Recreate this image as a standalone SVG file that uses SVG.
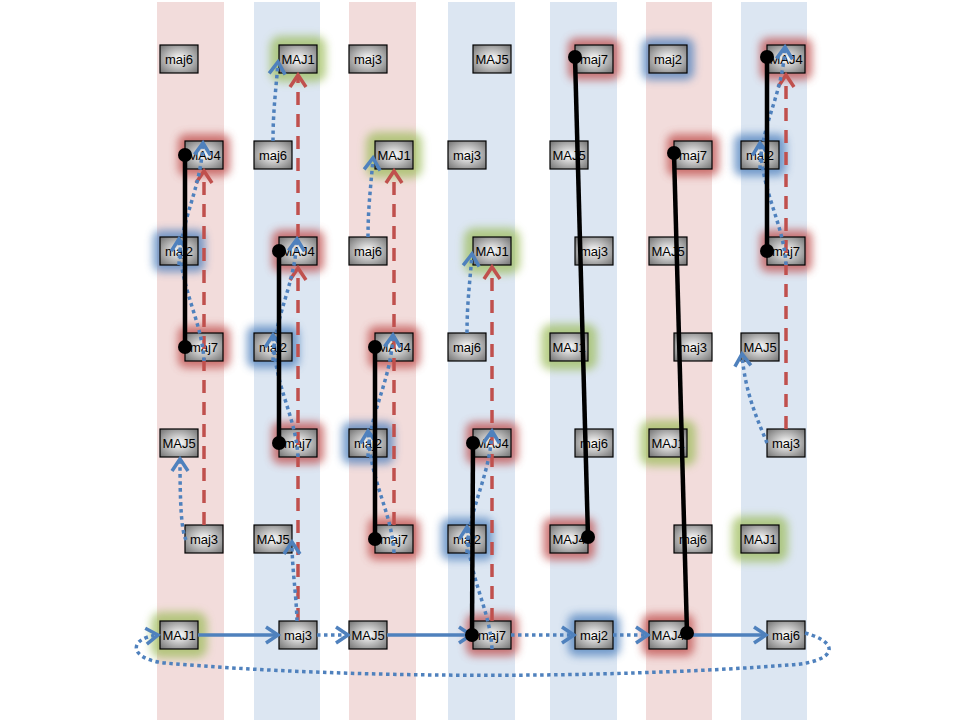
<svg xmlns="http://www.w3.org/2000/svg" width="960" height="720" viewBox="0 0 960 720">
<style>
.bp{fill:#F2DCDB}
.bb{fill:#DCE6F2}
.box{fill:url(#gg);stroke:#000;stroke-width:1.2}
.t{font-family:"Liberation Sans",Arial,sans-serif;font-size:13px;fill:#000;text-anchor:middle}
.gr{fill:#C0504D;opacity:0.75;filter:url(#blur)}
.gb{fill:#4F81BD;opacity:0.75;filter:url(#blur)}
.gn{fill:#9BBB59;opacity:0.7;filter:url(#blur)}
.bd{fill:none;stroke:#4F81BD;stroke-width:3.5;stroke-dasharray:3.5 3.5;marker-end:url(#ab)}
.bs{fill:none;stroke:#4F81BD;stroke-width:3.5;marker-end:url(#ab)}
.rd{fill:none;stroke:#C0504D;stroke-width:3.5;stroke-dasharray:13 9;marker-end:url(#ar)}
.bk{fill:none;stroke:#000;stroke-width:4.5}
.dot{fill:#000}
</style>
<defs>
<radialGradient id="gg" cx="50%" cy="50%" r="70%">
<stop offset="0" stop-color="#ffffff"/>
<stop offset="1" stop-color="#707070"/>
</radialGradient>
<filter id="blur" x="-50%" y="-50%" width="200%" height="200%">
<feGaussianBlur stdDeviation="4"/>
</filter>
<marker id="ab" viewBox="-14 -10 18 20" refX="0" refY="0" markerWidth="18" markerHeight="20" markerUnits="userSpaceOnUse" orient="auto" overflow="visible">
<path d="M-12,-8 L0,0 L-12,8" fill="none" stroke="#4F81BD" stroke-width="3.5"/>
</marker>
<marker id="ar" viewBox="-14 -10 18 20" refX="0" refY="0" markerWidth="18" markerHeight="20" markerUnits="userSpaceOnUse" orient="auto" overflow="visible">
<path d="M-12,-8 L0,0 L-12,8" fill="none" stroke="#C0504D" stroke-width="3.5"/>
</marker>
</defs>
<rect width="960" height="720" fill="#ffffff"/>
<g id="bands">
<rect class="bp" x="157" y="2" width="67" height="718"/>
<rect class="bb" x="254" y="2" width="66" height="718"/>
<rect class="bp" x="349" y="2" width="67" height="718"/>
<rect class="bb" x="448" y="2" width="67" height="718"/>
<rect class="bb" x="550" y="2" width="67" height="718"/>
<rect class="bp" x="646" y="2" width="66" height="718"/>
<rect class="bb" x="741" y="2" width="66" height="718"/>
</g>
<g id="glows">
<rect class="gr" x="178" y="134" width="52" height="42" rx="8"/>
<rect class="gb" x="153" y="230" width="52" height="42" rx="8"/>
<rect class="gr" x="178" y="326" width="52" height="42" rx="8"/>
<rect class="gn" x="151" y="612" width="56" height="46" rx="10"/>
<rect class="gn" x="270" y="36" width="56" height="46" rx="10"/>
<rect class="gr" x="272" y="230" width="52" height="42" rx="8"/>
<rect class="gb" x="247" y="326" width="52" height="42" rx="8"/>
<rect class="gr" x="272" y="422" width="52" height="42" rx="8"/>
<rect class="gn" x="366" y="132" width="56" height="46" rx="10"/>
<rect class="gr" x="368" y="326" width="52" height="42" rx="8"/>
<rect class="gb" x="342" y="422" width="52" height="42" rx="8"/>
<rect class="gr" x="368" y="518" width="52" height="42" rx="8"/>
<rect class="gn" x="464" y="228" width="56" height="46" rx="10"/>
<rect class="gr" x="466" y="422" width="52" height="42" rx="8"/>
<rect class="gb" x="441" y="518" width="52" height="42" rx="8"/>
<rect class="gr" x="466" y="614" width="52" height="42" rx="8"/>
<rect class="gr" x="568" y="38" width="52" height="42" rx="8"/>
<rect class="gn" x="541" y="324" width="56" height="46" rx="10"/>
<rect class="gr" x="543" y="518" width="52" height="42" rx="8"/>
<rect class="gb" x="568" y="614" width="52" height="42" rx="8"/>
<rect class="gb" x="642" y="38" width="52" height="42" rx="8"/>
<rect class="gr" x="667" y="134" width="52" height="42" rx="8"/>
<rect class="gn" x="640" y="420" width="56" height="46" rx="10"/>
<rect class="gr" x="642" y="614" width="52" height="42" rx="8"/>
<rect class="gr" x="760" y="38" width="52" height="42" rx="8"/>
<rect class="gb" x="734" y="134" width="52" height="42" rx="8"/>
<rect class="gr" x="760" y="230" width="52" height="42" rx="8"/>
<rect class="gn" x="732" y="516" width="56" height="46" rx="10"/>
</g>
<g id="col1">
<g id="c1-maj6"><rect class="box" x="160" y="45" width="38" height="28"/><text class="t" x="179" y="64">maj6</text></g>
<g id="c1-MAJ4"><rect class="box" x="185" y="141" width="38" height="28"/><text class="t" x="204" y="160">MAJ4</text></g>
<g id="c1-maj2"><rect class="box" x="160" y="237" width="38" height="28"/><text class="t" x="179" y="256">maj2</text></g>
<g id="c1-maj7"><rect class="box" x="185" y="333" width="38" height="28"/><text class="t" x="204" y="352">maj7</text></g>
<g id="c1-MAJ5"><rect class="box" x="160" y="429" width="38" height="28"/><text class="t" x="179" y="448">MAJ5</text></g>
<g id="c1-maj3"><rect class="box" x="185" y="525" width="38" height="28"/><text class="t" x="204" y="544">maj3</text></g>
<g id="c1-MAJ1"><rect class="box" x="160" y="621" width="38" height="28"/><text class="t" x="179" y="640">MAJ1</text></g>
</g>
<g id="col2">
<g id="c2-MAJ1"><rect class="box" x="279" y="45" width="38" height="28"/><text class="t" x="298" y="64">MAJ1</text></g>
<g id="c2-maj6"><rect class="box" x="254" y="141" width="38" height="28"/><text class="t" x="273" y="160">maj6</text></g>
<g id="c2-MAJ4"><rect class="box" x="279" y="237" width="38" height="28"/><text class="t" x="298" y="256">MAJ4</text></g>
<g id="c2-maj2"><rect class="box" x="254" y="333" width="38" height="28"/><text class="t" x="273" y="352">maj2</text></g>
<g id="c2-maj7"><rect class="box" x="279" y="429" width="38" height="28"/><text class="t" x="298" y="448">maj7</text></g>
<g id="c2-MAJ5"><rect class="box" x="254" y="525" width="38" height="28"/><text class="t" x="273" y="544">MAJ5</text></g>
<g id="c2-maj3"><rect class="box" x="279" y="621" width="38" height="28"/><text class="t" x="298" y="640">maj3</text></g>
</g>
<g id="col3">
<g id="c3-maj3"><rect class="box" x="349" y="45" width="38" height="28"/><text class="t" x="368" y="64">maj3</text></g>
<g id="c3-MAJ1"><rect class="box" x="375" y="141" width="38" height="28"/><text class="t" x="394" y="160">MAJ1</text></g>
<g id="c3-maj6"><rect class="box" x="349" y="237" width="38" height="28"/><text class="t" x="368" y="256">maj6</text></g>
<g id="c3-MAJ4"><rect class="box" x="375" y="333" width="38" height="28"/><text class="t" x="394" y="352">MAJ4</text></g>
<g id="c3-maj2"><rect class="box" x="349" y="429" width="38" height="28"/><text class="t" x="368" y="448">maj2</text></g>
<g id="c3-maj7"><rect class="box" x="375" y="525" width="38" height="28"/><text class="t" x="394" y="544">maj7</text></g>
<g id="c3-MAJ5"><rect class="box" x="349" y="621" width="38" height="28"/><text class="t" x="368" y="640">MAJ5</text></g>
</g>
<g id="col4">
<g id="c4-MAJ5"><rect class="box" x="473" y="45" width="38" height="28"/><text class="t" x="492" y="64">MAJ5</text></g>
<g id="c4-maj3"><rect class="box" x="448" y="141" width="38" height="28"/><text class="t" x="467" y="160">maj3</text></g>
<g id="c4-MAJ1"><rect class="box" x="473" y="237" width="38" height="28"/><text class="t" x="492" y="256">MAJ1</text></g>
<g id="c4-maj6"><rect class="box" x="448" y="333" width="38" height="28"/><text class="t" x="467" y="352">maj6</text></g>
<g id="c4-MAJ4"><rect class="box" x="473" y="429" width="38" height="28"/><text class="t" x="492" y="448">MAJ4</text></g>
<g id="c4-maj2"><rect class="box" x="448" y="525" width="38" height="28"/><text class="t" x="467" y="544">maj2</text></g>
<g id="c4-maj7"><rect class="box" x="473" y="621" width="38" height="28"/><text class="t" x="492" y="640">maj7</text></g>
</g>
<g id="col5">
<g id="c5-maj7"><rect class="box" x="575" y="45" width="38" height="28"/><text class="t" x="594" y="64">maj7</text></g>
<g id="c5-MAJ5"><rect class="box" x="550" y="141" width="38" height="28"/><text class="t" x="569" y="160">MAJ5</text></g>
<g id="c5-maj3"><rect class="box" x="575" y="237" width="38" height="28"/><text class="t" x="594" y="256">maj3</text></g>
<g id="c5-MAJ1"><rect class="box" x="550" y="333" width="38" height="28"/><text class="t" x="569" y="352">MAJ1</text></g>
<g id="c5-maj6"><rect class="box" x="575" y="429" width="38" height="28"/><text class="t" x="594" y="448">maj6</text></g>
<g id="c5-MAJ4"><rect class="box" x="550" y="525" width="38" height="28"/><text class="t" x="569" y="544">MAJ4</text></g>
<g id="c5-maj2"><rect class="box" x="575" y="621" width="38" height="28"/><text class="t" x="594" y="640">maj2</text></g>
</g>
<g id="col6">
<g id="c6-maj2"><rect class="box" x="649" y="45" width="38" height="28"/><text class="t" x="668" y="64">maj2</text></g>
<g id="c6-maj7"><rect class="box" x="674" y="141" width="38" height="28"/><text class="t" x="693" y="160">maj7</text></g>
<g id="c6-MAJ5"><rect class="box" x="649" y="237" width="38" height="28"/><text class="t" x="668" y="256">MAJ5</text></g>
<g id="c6-maj3"><rect class="box" x="674" y="333" width="38" height="28"/><text class="t" x="693" y="352">maj3</text></g>
<g id="c6-MAJ1"><rect class="box" x="649" y="429" width="38" height="28"/><text class="t" x="668" y="448">MAJ1</text></g>
<g id="c6-maj6"><rect class="box" x="674" y="525" width="38" height="28"/><text class="t" x="693" y="544">maj6</text></g>
<g id="c6-MAJ4"><rect class="box" x="649" y="621" width="38" height="28"/><text class="t" x="668" y="640">MAJ4</text></g>
</g>
<g id="col7">
<g id="c7-MAJ4"><rect class="box" x="767" y="45" width="38" height="28"/><text class="t" x="786" y="64">MAJ4</text></g>
<g id="c7-maj2"><rect class="box" x="741" y="141" width="38" height="28"/><text class="t" x="760" y="160">maj2</text></g>
<g id="c7-maj7"><rect class="box" x="767" y="237" width="38" height="28"/><text class="t" x="786" y="256">maj7</text></g>
<g id="c7-MAJ5"><rect class="box" x="741" y="333" width="38" height="28"/><text class="t" x="760" y="352">MAJ5</text></g>
<g id="c7-maj3"><rect class="box" x="767" y="429" width="38" height="28"/><text class="t" x="786" y="448">maj3</text></g>
<g id="c7-MAJ1"><rect class="box" x="741" y="525" width="38" height="28"/><text class="t" x="760" y="544">MAJ1</text></g>
<g id="c7-maj6"><rect class="box" x="767" y="621" width="38" height="28"/><text class="t" x="786" y="640">maj6</text></g>
</g>
<g id="connectors">
<path class="rd" d="M204,525 L204,171"/>
<path class="rd" d="M298,621 L298,268"/>
<path class="rd" d="M298,237 L298,75"/>
<path class="rd" d="M394,525 L394,171"/>
<path class="rd" d="M492,621 L492,267"/>
<path class="rd" d="M786,429 L786,75"/>
<path class="bd" d="M186,540 C181,530 180,500 180,459"/>
<path class="bd" d="M204,361 C202,320 180,290 179,239"/>
<path class="bd" d="M179,265 C180,220 201,190 203,143"/>
<path class="bd" d="M297,621 C296,590 292,570 292,542"/>
<path class="bd" d="M298,457 C296,416 274,386 273,335"/>
<path class="bd" d="M273,361 C274,316 295,286 297,239"/>
<path class="bd" d="M273,141 C273,110 276,90 278,62"/>
<path class="bd" d="M394,553 C392,512 370,482 368,431"/>
<path class="bd" d="M368,457 C369,412 391,382 393,335"/>
<path class="bd" d="M368,237 C368,206 371,186 373,158"/>
<path class="bd" d="M492,649 C490,608 468,578 467,527"/>
<path class="bd" d="M467,553 C468,508 490,478 492,431"/>
<path class="bd" d="M467,333 C467,302 470,282 472,254"/>
<path class="bd" d="M786,265 C784,224 762,194 760,143"/>
<path class="bd" d="M760,169 C761,124 783,94 785,47"/>
<path class="bd" d="M767,443 C760,425 745,395 742,354"/>
<path class="bs" d="M198,635 L278,635"/>
<path class="bd" d="M317,635 L348,635"/>
<path class="bs" d="M387,635 L471,635"/>
<path class="bd" d="M511,635 L574,635"/>
<path class="bd" d="M613,635 L648,635"/>
<path class="bs" d="M687,635 L766,635"/>
<path class="bd" d="M805,633 C842,643 836,662 790,665 C600,679 350,679 165,663 C128,659 128,638 158,635"/>
<path class="bk" d="M185,155 L185,347"/>
<path class="bk" d="M279,251 L279,443"/>
<path class="bk" d="M375,347 L375,539"/>
<path class="bk" d="M473,443 L472,635"/>
<path class="bk" d="M575,57 L588,537"/>
<path class="bk" d="M674,153 L687,633"/>
<path class="bk" d="M767,57 L767,251"/>
<circle class="dot" cx="185" cy="155" r="7"/>
<circle class="dot" cx="185" cy="347" r="7"/>
<circle class="dot" cx="279" cy="251" r="7"/>
<circle class="dot" cx="279" cy="443" r="7"/>
<circle class="dot" cx="375" cy="347" r="7"/>
<circle class="dot" cx="375" cy="539" r="7"/>
<circle class="dot" cx="473" cy="443" r="7"/>
<circle class="dot" cx="472" cy="635" r="7"/>
<circle class="dot" cx="575" cy="57" r="7"/>
<circle class="dot" cx="588" cy="537" r="7"/>
<circle class="dot" cx="674" cy="153" r="7"/>
<circle class="dot" cx="687" cy="633" r="7"/>
<circle class="dot" cx="767" cy="57" r="7"/>
<circle class="dot" cx="767" cy="251" r="7"/>
</g>
</svg>
